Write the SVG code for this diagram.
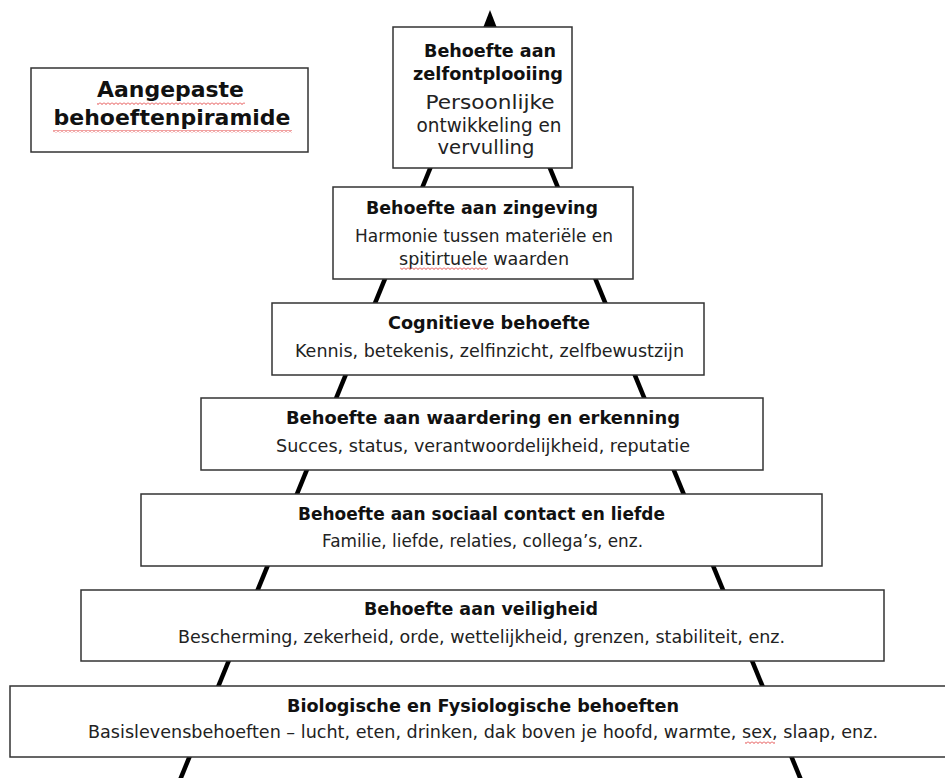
<svg xmlns="http://www.w3.org/2000/svg" width="945" height="778" viewBox="0 0 945 778">
<defs>
<pattern id="sq" patternUnits="userSpaceOnUse" x="0" y="0" width="4" height="3">
<path d="M0,0.5 L2,2.5 L4,0.5" fill="none" stroke="#e03030" stroke-width="0.9"/>
</pattern>
</defs>
<style>
.box{fill:#fff;stroke:#333;stroke-width:1.5}
.h{font-family:"DejaVu Sans",Verdana,sans-serif;font-weight:bold;font-size:17.5px;fill:#111;text-anchor:middle}
.t{font-family:"DejaVu Sans",Verdana,sans-serif;font-size:17.5px;fill:#222;text-anchor:middle}
.tb{font-family:"DejaVu Sans",Verdana,sans-serif;font-size:19px;fill:#222;text-anchor:middle}
.ttl{font-family:"DejaVu Sans",Verdana,sans-serif;font-weight:bold;font-size:22px;fill:#111;text-anchor:middle}
.ln{stroke:#000;stroke-width:4.5;fill:none}
</style>
<g id="connectors">
<line class="ln" x1="490" y1="22" x2="180" y2="780"/>
<line class="ln" x1="490" y1="22" x2="801" y2="780"/>
<polygon points="490,10 483,28 497,28" fill="#000"/>
</g>
<g id="title">
<rect class="box" x="31" y="68" width="277" height="84"/>
<text class="ttl" x="170.5" y="97" textLength="147" lengthAdjust="spacingAndGlyphs">Aangepaste</text>
<text class="ttl" x="172" y="125" textLength="237" lengthAdjust="spacingAndGlyphs">behoeftenpiramide</text>
<rect x="97" y="102" width="148" height="3" fill="url(#sq)"/>
<rect x="53" y="130" width="239" height="3" fill="url(#sq)"/>
</g>
<g id="node1">
<rect class="box" x="393" y="27" width="179" height="141"/>
<text class="h" x="490" y="57" textLength="132" lengthAdjust="spacingAndGlyphs">Behoefte aan</text>
<text class="h" x="488" y="80" textLength="150" lengthAdjust="spacingAndGlyphs">zelfontplooiing</text>
<text class="tb" x="490" y="109" textLength="129" lengthAdjust="spacingAndGlyphs">Persoonlijke</text>
<text class="tb" x="489" y="132" textLength="145" lengthAdjust="spacingAndGlyphs">ontwikkeling en</text>
<text class="tb" x="486" y="154" textLength="97" lengthAdjust="spacingAndGlyphs">vervulling</text>
</g>
<g id="node2">
<rect class="box" x="333" y="187" width="300" height="92"/>
<text class="h" x="482" y="214" textLength="232" lengthAdjust="spacingAndGlyphs">Behoefte aan zingeving</text>
<text class="t" x="484" y="242" textLength="258" lengthAdjust="spacingAndGlyphs">Harmonie tussen materiële en</text>
<text class="t" x="484" y="265" textLength="170" lengthAdjust="spacingAndGlyphs">spitirtuele waarden</text>
<rect x="400" y="267" width="88" height="3" fill="url(#sq)"/>
</g>
<g id="node3">
<rect class="box" x="272" y="303" width="432" height="72"/>
<text class="h" x="489" y="329" textLength="202" lengthAdjust="spacingAndGlyphs">Cognitieve behoefte</text>
<text class="t" x="489.5" y="357" textLength="389" lengthAdjust="spacingAndGlyphs">Kennis, betekenis, zelfinzicht, zelfbewustzijn</text>
</g>
<g id="node4">
<rect class="box" x="201" y="398" width="562" height="72"/>
<text class="h" x="483" y="424" textLength="394" lengthAdjust="spacingAndGlyphs">Behoefte aan waardering en erkenning</text>
<text class="t" x="483" y="452" textLength="414" lengthAdjust="spacingAndGlyphs">Succes, status, verantwoordelijkheid, reputatie</text>
</g>
<g id="node5">
<rect class="box" x="141" y="494" width="681" height="72"/>
<text class="h" x="481.5" y="520" textLength="367" lengthAdjust="spacingAndGlyphs">Behoefte aan sociaal contact en liefde</text>
<text class="t" x="482.5" y="547" textLength="321" lengthAdjust="spacingAndGlyphs">Familie, liefde, relaties, collega’s, enz.</text>
</g>
<g id="node6">
<rect class="box" x="81" y="590" width="803" height="71"/>
<text class="h" x="481" y="615" textLength="234" lengthAdjust="spacingAndGlyphs">Behoefte aan veiligheid</text>
<text class="t" x="481.5" y="643" textLength="607" lengthAdjust="spacingAndGlyphs">Bescherming, zekerheid, orde, wettelijkheid, grenzen, stabiliteit, enz.</text>
</g>
<g id="node7">
<rect class="box" x="10" y="686" width="945" height="71"/>
<text class="h" x="483" y="712" textLength="392" lengthAdjust="spacingAndGlyphs">Biologische en Fysiologische behoeften</text>
<text class="t" x="483" y="738" textLength="790" lengthAdjust="spacingAndGlyphs">Basislevensbehoeften – lucht, eten, drinken, dak boven je hoofd, warmte, sex, slaap, enz.</text>
<rect x="745" y="741" width="30" height="3" fill="url(#sq)"/>
</g>
</svg>
